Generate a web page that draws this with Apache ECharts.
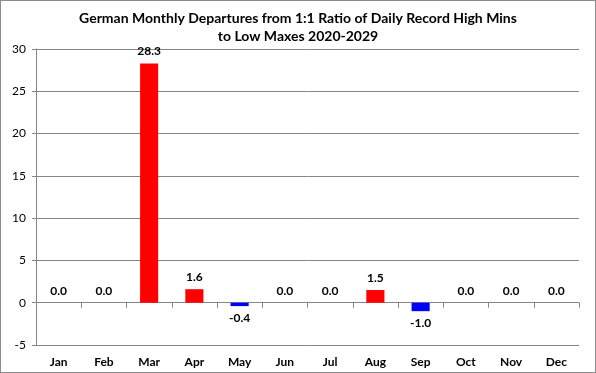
<!DOCTYPE html>
<html><head><meta charset="utf-8">
<script src="https://cdn.jsdelivr.net/npm/echarts@6/dist/echarts.min.js"></script>
<style>
html,body{margin:0;padding:0;background:#fff;}
#c{width:596px;height:373px;box-sizing:border-box;border:1px solid #8c8c8c;}
</style></head>
<body><div id="c"></div>
<script>
const titleText = "German Monthly Departures from 1:1 Ratio of Daily Record High Mins\nto Low Maxes 2020-2029";
const months = ["Jan","Feb","Mar","Apr","May","Jun","Jul","Aug","Sep","Oct","Nov","Dec"];
const departures = [0.0, 0.0, 28.3, 1.6, -0.4, 0.0, 0.0, 1.5, -1.0, 0.0, 0.0, 0.0];
const yMin = -5, yMax = 30, yStep = 5;

const chart = echarts.init(document.getElementById('c'));
const font = 'Lato, "Open Sans", sans-serif';
chart.setOption({
  animation: false,
  title: {
    text: titleText, left: 'center', top: 3,
    textStyle: {fontFamily: font, fontWeight: 'bold', fontSize: 14, color: '#000', lineHeight: 18}
  },
  grid: {left: 35, right: 16, top: 48, bottom: 27},
  xAxis: [{
    type: 'category', data: months,
    axisLine: {onZero: true, lineStyle: {color: '#868686'}},
    axisTick: {show: true, length: 5, lineStyle: {color: '#868686'}},
    axisLabel: {show: false}
  }, {
    type: 'category', data: months, position: 'bottom',
    axisLine: {show: false, onZero: false}, axisTick: {show: false},
    axisLabel: {margin: 11, fontFamily: font, fontWeight: 'bold', fontSize: 12, color: '#000'}
  }],
  yAxis: {
    type: 'value', min: yMin, max: yMax, interval: yStep,
    axisLine: {show: true, lineStyle: {color: '#868686'}},
    axisTick: {show: true, length: 4, lineStyle: {color: '#868686'}},
    splitLine: {lineStyle: {color: '#868686'}},
    axisLabel: {fontFamily: font, fontSize: 12, color: '#000', margin: 10}
  },
  series: [{
    type: 'bar', xAxisIndex: 0, barWidth: '40%',
    data: departures.map(v => ({
      value: v,
      itemStyle: {color: v < 0 ? '#0000ff' : '#ff0000'},
      label: {position: v < 0 ? 'bottom' : 'top'}
    })),
    label: {show: true, distance: 6, formatter: p => p.value.toFixed(1),
      fontFamily: font, fontWeight: 'bold', fontSize: 12, color: '#000'}
  }]
});
</script></body></html>
